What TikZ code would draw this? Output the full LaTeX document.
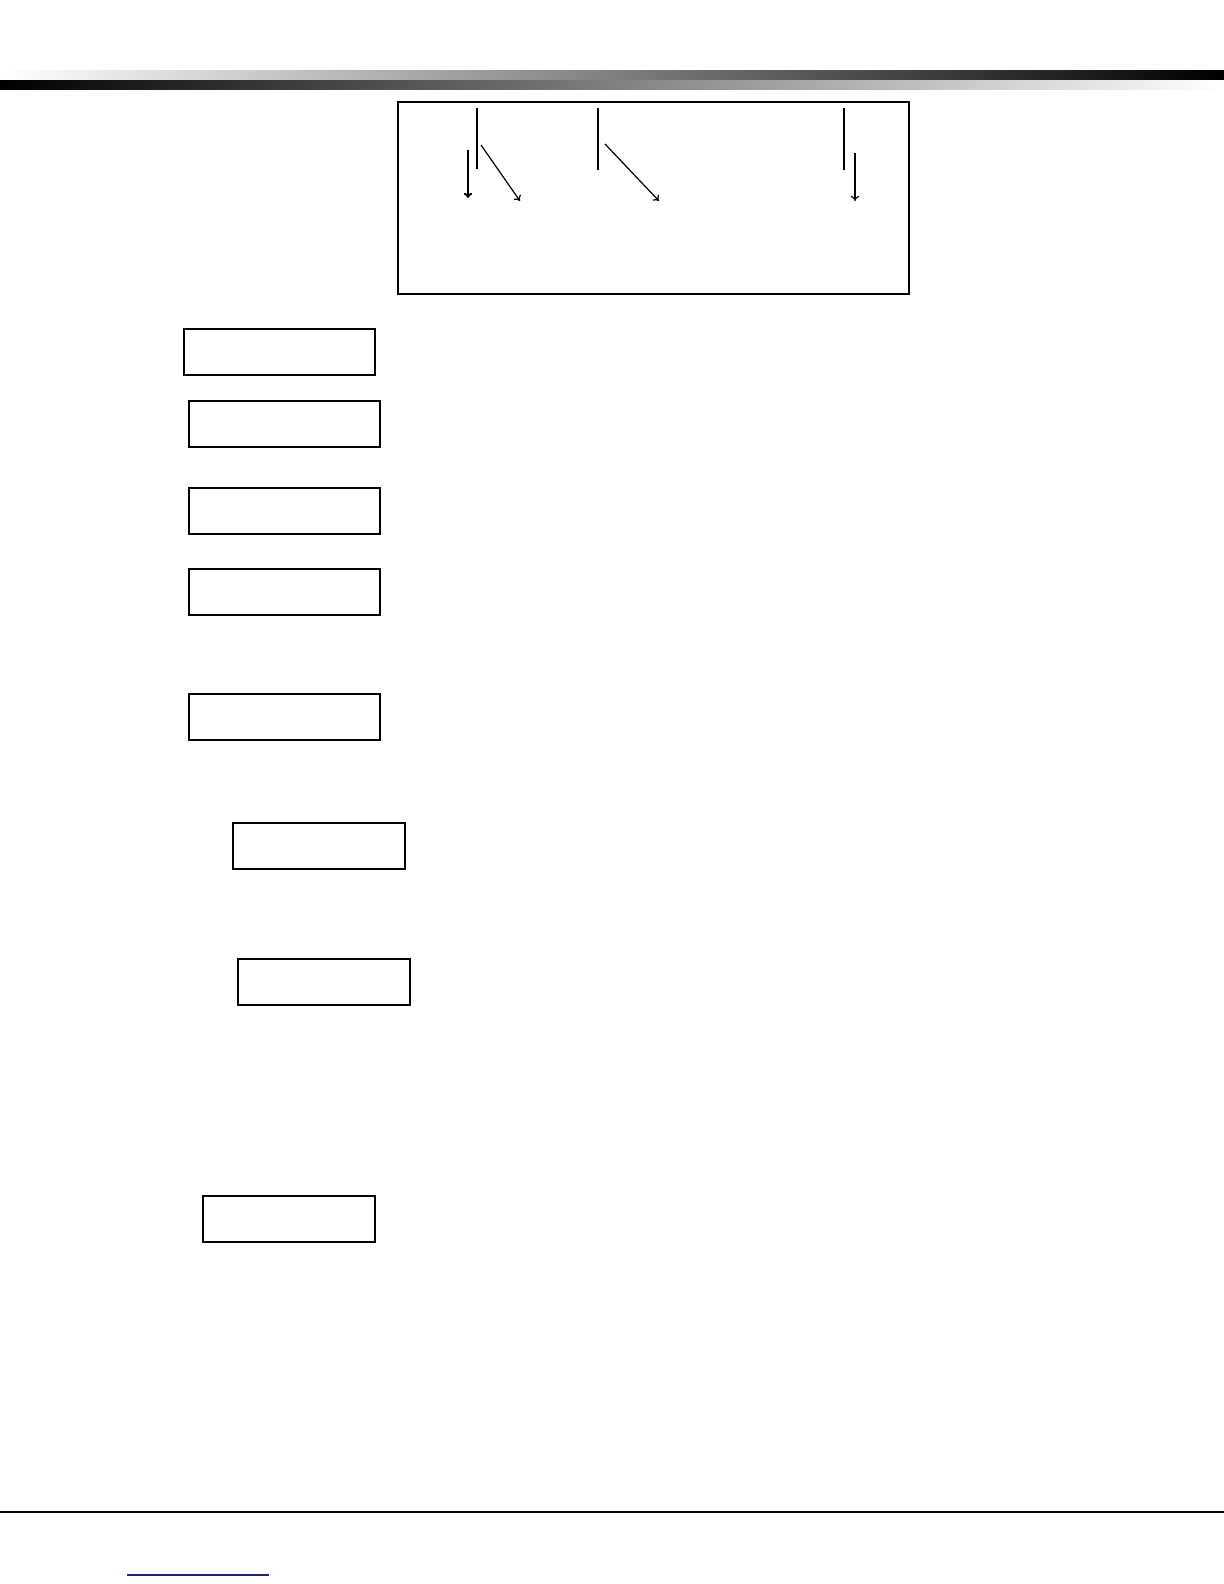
\documentclass[tikz,border=0pt]{standalone}
\usepackage{tikz}
\usepackage{xcolor}
\usetikzlibrary{arrows.meta}
\definecolor{linkblue}{RGB}{30,30,130}

\begin{document}
\begin{tikzpicture}[x=0.5pt, y=-0.5pt,
		>={To[length=2.6pt,width=4.2pt]},
		panel/.style={draw, line width=1pt, inner sep=0pt, outer sep=0pt, minimum width=95.3pt, minimum height=23pt},
		narrow/.style={panel, minimum width=86.2pt},
		lead/.style={line width=0.6pt}]
		\useasboundingbox (0,0) rectangle (1224,1584);
		\shade[left color=white, right color=black] (0,71) rectangle (1224,81);
		\shade[left color=black, right color=white] (0,81) rectangle (1224,90);
		\node[draw, line width=1pt, inner sep=0pt, minimum width=255.5pt, minimum height=95.9pt] (screen) at (653.5,197.6) {};
		\coordinate (l1a) at (477,108); \coordinate (l1b) at (477,169);
		\coordinate (l2a) at (598,108); \coordinate (l2b) at (598,170);
		\coordinate (l3a) at (844,108); \coordinate (l3b) at (844,170);
		\draw[lead] (l1a) -- (l1b);
		\draw[lead] (l2a) -- (l2b);
		\draw[line width=1.2pt] (l3a) -- (l3b);
		\coordinate (p1) at (468,150); \coordinate (q1) at (468,198);
		\coordinate (p2) at (481,145); \coordinate (q2) at (520,201);
		\coordinate (p3) at (605,144); \coordinate (q3) at (659,201);
		\coordinate (p4) at (855,153); \coordinate (q4) at (855,201);
		\draw[->, line width=1pt] (p1) -- (q1);
		\draw[->, lead] (p2) -- (q2);
		\draw[->, lead] (p3) -- (q3);
		\draw[->, lead] (p4) -- (q4);
		\node[panel] (mode) at (279.7,351.7) {};
		\node[panel] (zone) at (284.7,423.7) {};
		\node[panel] (bypass) at (284.2,510.9) {};
		\node[panel] (trouble) at (284.2,592) {};
		\node[panel] (memory) at (284.2,716.9) {};
		\node[narrow] (chime) at (318.9,845.9) {};
		\node[narrow] (exit) at (323.9,981.6) {};
		\node[narrow] (arm) at (288.9,1218.7) {};
		\coordinate (rulea) at (0,1511.7); \coordinate (ruleb) at (1224,1511.7);
		\draw[line width=1pt] (rulea) -- (ruleb);
		\coordinate (linka) at (126.7,1575); \coordinate (linkb) at (268.7,1575);
		\draw[linkblue, line width=0.6pt] (linka) -- (linkb);
	\end{tikzpicture}
\end{document}
